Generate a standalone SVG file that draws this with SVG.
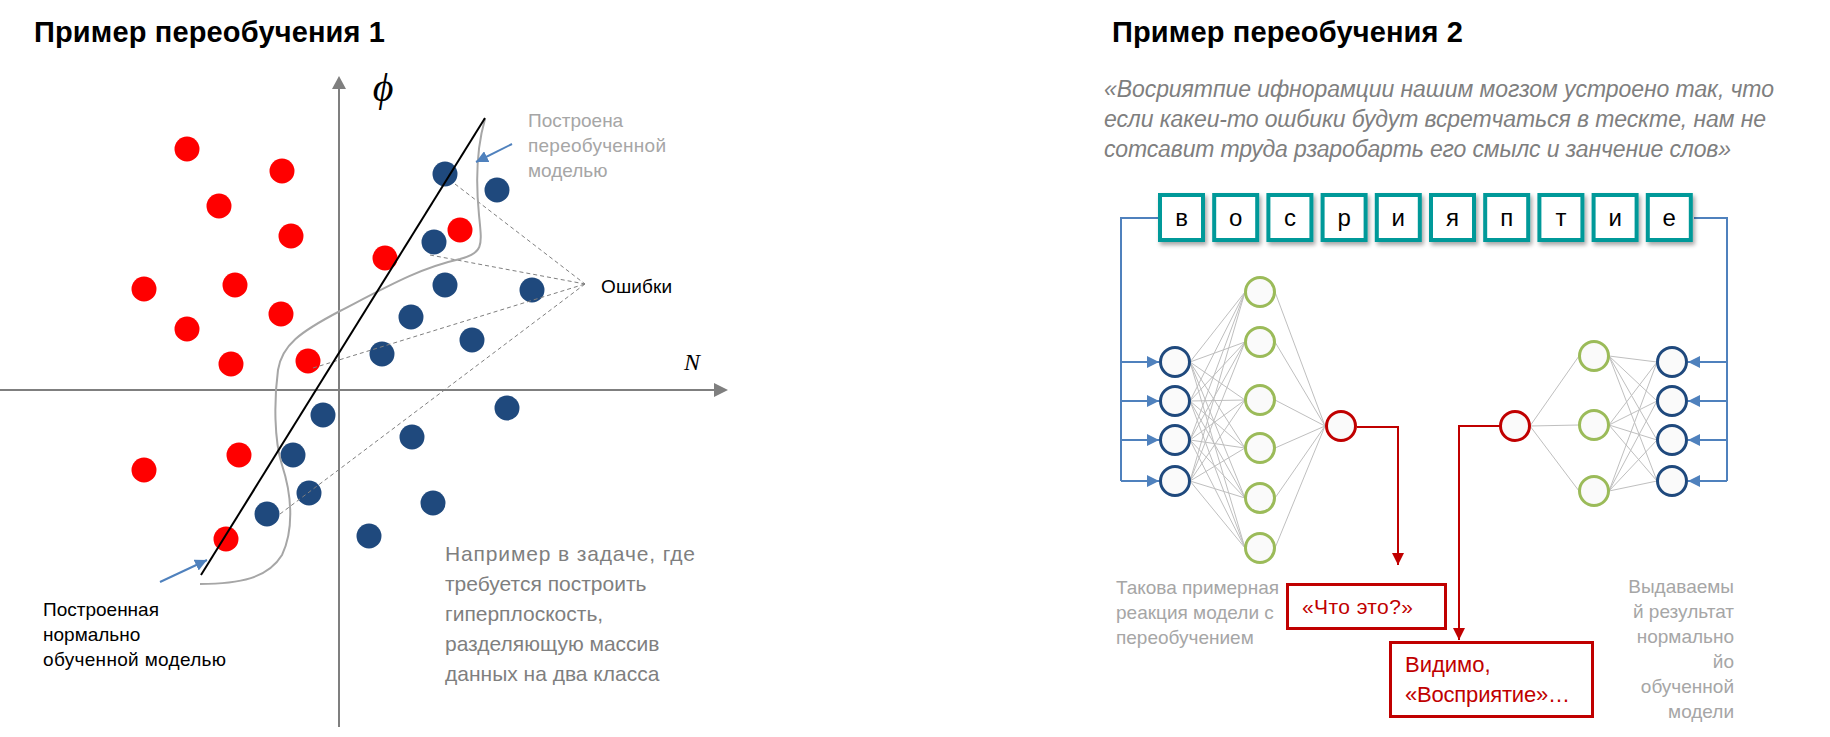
<svg xmlns="http://www.w3.org/2000/svg" width="1830" height="737" viewBox="0 0 1830 737">
<style>
text{font-family:"Liberation Sans",Arial,sans-serif}
.title{font-size:29px;font-weight:bold;fill:#000}
.red{fill:#ff0000}
.blue{fill:#1f497d}
.axis{stroke:#7f7f7f;stroke-width:2;fill:none}
.dash{stroke:#7f7f7f;stroke-width:1;stroke-dasharray:4 3;fill:none}
.g19{font-size:19px;fill:#a6a6a6}
.k19{font-size:19px;fill:#000}
.note{font-size:21px;fill:#7f7f7f}
.quote{font-size:23px;font-style:italic;fill:#7f7f7f}
.box{fill:#fff;stroke:#009999;stroke-width:4}
.let{font-size:24px;fill:#000;text-anchor:middle}
.nb{fill:#fafafa;stroke:#1f497d;stroke-width:3}
.ng{fill:#fafafa;stroke:#9bbb59;stroke-width:3}
.nr{fill:#fafafa;stroke:#c00000;stroke-width:3}
.w{stroke:#bfbfbf;stroke-width:1;fill:none}
.bl{stroke:#4f81bd;stroke-width:2;fill:none}
.rl{stroke:#c00000;stroke-width:2;fill:none}
.rbox{fill:#fff;stroke:#c00000;stroke-width:3}
.rt{font-size:22px;fill:#c00000}
.math{font-family:"Liberation Serif","DejaVu Serif",serif;font-style:italic;fill:#000;text-anchor:middle}
</style>
<defs>
<marker id="ab" markerUnits="userSpaceOnUse" viewBox="0 0 12 12" markerWidth="12" markerHeight="12" refX="12" refY="6" orient="auto"><path d="M0,0 L12,6 L0,12 z" fill="#4f81bd"/></marker>
<marker id="ar" markerUnits="userSpaceOnUse" viewBox="0 0 12 12" markerWidth="12" markerHeight="12" refX="12" refY="6" orient="auto"><path d="M0,0 L12,6 L0,12 z" fill="#c00000"/></marker>
<filter id="sh" x="-20%" y="-20%" width="150%" height="150%"><feDropShadow dx="2" dy="3" stdDeviation="2" flood-color="#000" flood-opacity="0.35"/></filter>
</defs>

<!-- ===== Example 1 ===== -->
<g id="title1"><text class="title" x="34" y="42" textLength="351">Пример переобучения 1</text></g>

<g id="axes">
<line class="axis" x1="339" y1="727" x2="339" y2="88"/>
<polygon points="332,89 346,89 339,76" fill="#7f7f7f"/>
<line class="axis" x1="0" y1="390" x2="715" y2="390"/>
<polygon points="714,383 714,397 728,390" fill="#7f7f7f"/>
<text class="math" x="383" y="101" font-size="40">ϕ</text>
<text class="math" x="692" y="370" font-size="24">N</text>
</g>

<g id="points-red">
<circle class="red" cx="187" cy="149" r="12.5"/>
<circle class="red" cx="282" cy="171" r="12.5"/>
<circle class="red" cx="219" cy="206" r="12.5"/>
<circle class="red" cx="291" cy="236" r="12.5"/>
<circle class="red" cx="144" cy="289" r="12.5"/>
<circle class="red" cx="235" cy="285" r="12.5"/>
<circle class="red" cx="281" cy="314" r="12.5"/>
<circle class="red" cx="187" cy="329" r="12.5"/>
<circle class="red" cx="231" cy="364" r="12.5"/>
<circle class="red" cx="308" cy="361" r="12.5"/>
<circle class="red" cx="385" cy="258" r="12.5"/>
<circle class="red" cx="460" cy="230" r="12.5"/>
<circle class="red" cx="144" cy="470" r="12.5"/>
<circle class="red" cx="239" cy="455" r="12.5"/>
<circle class="red" cx="226" cy="539" r="12.5"/>
</g>
<g id="points-blue">
<circle class="blue" cx="445" cy="174" r="12.5"/>
<circle class="blue" cx="497" cy="190" r="12.5"/>
<circle class="blue" cx="434" cy="242" r="12.5"/>
<circle class="blue" cx="445" cy="285" r="12.5"/>
<circle class="blue" cx="532" cy="290" r="12.5"/>
<circle class="blue" cx="411" cy="317" r="12.5"/>
<circle class="blue" cx="382" cy="354" r="12.5"/>
<circle class="blue" cx="472" cy="340" r="12.5"/>
<circle class="blue" cx="507" cy="408" r="12.5"/>
<circle class="blue" cx="323" cy="415" r="12.5"/>
<circle class="blue" cx="293" cy="455" r="12.5"/>
<circle class="blue" cx="412" cy="437" r="12.5"/>
<circle class="blue" cx="309" cy="493" r="12.5"/>
<circle class="blue" cx="267" cy="514" r="12.5"/>
<circle class="blue" cx="433" cy="503" r="12.5"/>
<circle class="blue" cx="369" cy="536" r="12.5"/>
</g>

<g id="connectors-1">
<path class="dash" d="M455,184 L585,284 M430,255 L585,284 M313,368 L585,284 M280,514 L585,284"/>
<path id="overfit-curve" d="M485,119 C476,150 476,185 479,215 C482,245 484,253 460,259 C420,268 390,285 340,311 C300,332 282,345 278,370 C274,400 274,440 282,465 C292,495 294,530 282,555 C268,578 240,584 200,584" fill="none" stroke="#a6a6a6" stroke-width="2"/>
<line id="normal-line" x1="485" y1="118" x2="201" y2="575" stroke="#000" stroke-width="2"/>
<line class="bl" x1="512" y1="144" x2="476" y2="162" marker-end="url(#ab)"/>
<line class="bl" x1="160" y1="582" x2="207" y2="560" marker-end="url(#ab)"/>
</g>

<g id="label-errors"><text class="k19" x="601" y="293" textLength="71">Ошибки</text></g>
<g id="label-overfit">
<text class="g19" x="528" y="127">Построена</text>
<text class="g19" x="528" y="152" textLength="138">переобученной</text>
<text class="g19" x="528" y="177">моделью</text>
</g>
<g id="label-normal">
<text class="k19" x="43" y="616">Построенная</text>
<text class="k19" x="43" y="641">нормально</text>
<text class="k19" x="43" y="666" textLength="183">обученной моделью</text>
</g>
<g id="note1">
<text class="note" x="445" y="561" textLength="250">Например в задаче, где</text>
<text class="note" x="445" y="591">требуется построить</text>
<text class="note" x="445" y="621">гиперплоскость,</text>
<text class="note" x="445" y="651">разделяющую массив</text>
<text class="note" x="445" y="681">данных на два класса</text>
</g>

<!-- ===== Example 2 ===== -->
<g id="title2"><text class="title" x="1112" y="42" textLength="351">Пример переобучения 2</text></g>
<g id="quote">
<text class="quote" x="1104" y="97" textLength="670">«Восриятпие ифнорамции нашим могзом устроено так, что</text>
<text class="quote" x="1104" y="127" textLength="662">если какеи-то ошбики будут всретчаться в тескте, нам не</text>
<text class="quote" x="1104" y="157" textLength="627">сотсавит труда рзаробарть его смылс и занчение слов»</text>
</g>

<g id="connectors-2">
<path class="bl" d="M1158,218 H1121 V481"/>
<line class="bl" x1="1121" y1="362" x2="1159" y2="362" marker-end="url(#ab)"/>
<line class="bl" x1="1121" y1="401" x2="1159" y2="401" marker-end="url(#ab)"/>
<line class="bl" x1="1121" y1="440" x2="1159" y2="440" marker-end="url(#ab)"/>
<line class="bl" x1="1121" y1="481" x2="1159" y2="481" marker-end="url(#ab)"/>
<path class="bl" d="M1694,218 H1727 V481"/>
<line class="bl" x1="1727" y1="362" x2="1688" y2="362" marker-end="url(#ab)"/>
<line class="bl" x1="1727" y1="401" x2="1688" y2="401" marker-end="url(#ab)"/>
<line class="bl" x1="1727" y1="440" x2="1688" y2="440" marker-end="url(#ab)"/>
<line class="bl" x1="1727" y1="481" x2="1688" y2="481" marker-end="url(#ab)"/>
<path class="rl" d="M1357,427 H1398 V565" marker-end="url(#ar)"/>
<path class="rl" d="M1500,426 H1459 V640" marker-end="url(#ar)"/>
<path class="w" d="
M1190,362 L1245,292 M1190,362 L1245,342 M1190,362 L1245,400 M1190,362 L1245,448 M1190,362 L1245,498 M1190,362 L1245,548
M1190,401 L1245,292 M1190,401 L1245,342 M1190,401 L1245,400 M1190,401 L1245,448 M1190,401 L1245,498 M1190,401 L1245,548
M1190,440 L1245,292 M1190,440 L1245,342 M1190,440 L1245,400 M1190,440 L1245,448 M1190,440 L1245,498 M1190,440 L1245,548
M1190,481 L1245,292 M1190,481 L1245,342 M1190,481 L1245,400 M1190,481 L1245,448 M1190,481 L1245,498 M1190,481 L1245,548
M1275,292 L1325,426 M1275,342 L1325,426 M1275,400 L1325,426 M1275,448 L1325,426 M1275,498 L1325,426 M1275,548 L1325,426"/>
<path class="w" d="
M1530,426 L1579,356 M1530,426 L1579,425 M1530,426 L1579,491
M1609,356 L1657,362 M1609,356 L1657,401 M1609,356 L1657,440 M1609,356 L1657,481
M1609,425 L1657,362 M1609,425 L1657,401 M1609,425 L1657,440 M1609,425 L1657,481
M1609,491 L1657,362 M1609,491 L1657,401 M1609,491 L1657,440 M1609,491 L1657,481"/>
</g>

<g id="letters">
<g filter="url(#sh)">
<rect class="box" x="1160" y="195" width="43" height="45"/>
<rect class="box" x="1214.2" y="195" width="43" height="45"/>
<rect class="box" x="1268.4" y="195" width="43" height="45"/>
<rect class="box" x="1322.6" y="195" width="43" height="45"/>
<rect class="box" x="1376.8" y="195" width="43" height="45"/>
<rect class="box" x="1431" y="195" width="43" height="45"/>
<rect class="box" x="1485.2" y="195" width="43" height="45"/>
<rect class="box" x="1539.4" y="195" width="43" height="45"/>
<rect class="box" x="1593.6" y="195" width="43" height="45"/>
<rect class="box" x="1647.8" y="195" width="43" height="45"/>
</g>
<text class="let" x="1181.5" y="226">в</text>
<text class="let" x="1235.7" y="226">о</text>
<text class="let" x="1289.9" y="226">с</text>
<text class="let" x="1344.1" y="226">р</text>
<text class="let" x="1398.3" y="226">и</text>
<text class="let" x="1452.5" y="226">я</text>
<text class="let" x="1506.7" y="226">п</text>
<text class="let" x="1560.9" y="226">т</text>
<text class="let" x="1615.1" y="226">и</text>
<text class="let" x="1669.3" y="226">е</text>
</g>

<g id="net-left">
<circle class="nb" cx="1175" cy="362" r="14.5"/>
<circle class="nb" cx="1175" cy="401" r="14.5"/>
<circle class="nb" cx="1175" cy="440" r="14.5"/>
<circle class="nb" cx="1175" cy="481" r="14.5"/>
<circle class="ng" cx="1260" cy="292" r="14.5"/>
<circle class="ng" cx="1260" cy="342" r="14.5"/>
<circle class="ng" cx="1260" cy="400" r="14.5"/>
<circle class="ng" cx="1260" cy="448" r="14.5"/>
<circle class="ng" cx="1260" cy="498" r="14.5"/>
<circle class="ng" cx="1260" cy="548" r="14.5"/>
<circle class="nr" cx="1341" cy="426" r="14.5"/>
</g>
<g id="net-right">
<circle class="nr" cx="1515" cy="426" r="14.5"/>
<circle class="ng" cx="1594" cy="356" r="14.5"/>
<circle class="ng" cx="1594" cy="425" r="14.5"/>
<circle class="ng" cx="1594" cy="491" r="14.5"/>
<circle class="nb" cx="1672" cy="362" r="14.5"/>
<circle class="nb" cx="1672" cy="401" r="14.5"/>
<circle class="nb" cx="1672" cy="440" r="14.5"/>
<circle class="nb" cx="1672" cy="481" r="14.5"/>
</g>

<g id="label-left-net">
<text class="g19" x="1116" y="594" textLength="163">Такова примерная</text>
<text class="g19" x="1116" y="619">реакция модели с</text>
<text class="g19" x="1116" y="644">переобучением</text>
</g>
<g id="label-right-net" text-anchor="end">
<text class="g19" x="1734" y="593">Выдаваемы</text>
<text class="g19" x="1734" y="618">й результат</text>
<text class="g19" x="1734" y="643">нормально</text>
<text class="g19" x="1734" y="668">йо</text>
<text class="g19" x="1734" y="693">обученной</text>
<text class="g19" x="1734" y="718">модели</text>
</g>

<g id="box-what">
<rect class="rbox" x="1287.5" y="584.5" width="158" height="44"/>
<text class="rt" x="1302" y="614" style="font-size:21px" textLength="111">«Что это?»</text>
</g>
<g id="box-seems">
<rect class="rbox" x="1390.5" y="642.5" width="202" height="74"/>
<text class="rt" x="1405" y="672">Видимо,</text>
<text class="rt" x="1405" y="702" textLength="165">«Восприятие»…</text>
</g>
</svg>
